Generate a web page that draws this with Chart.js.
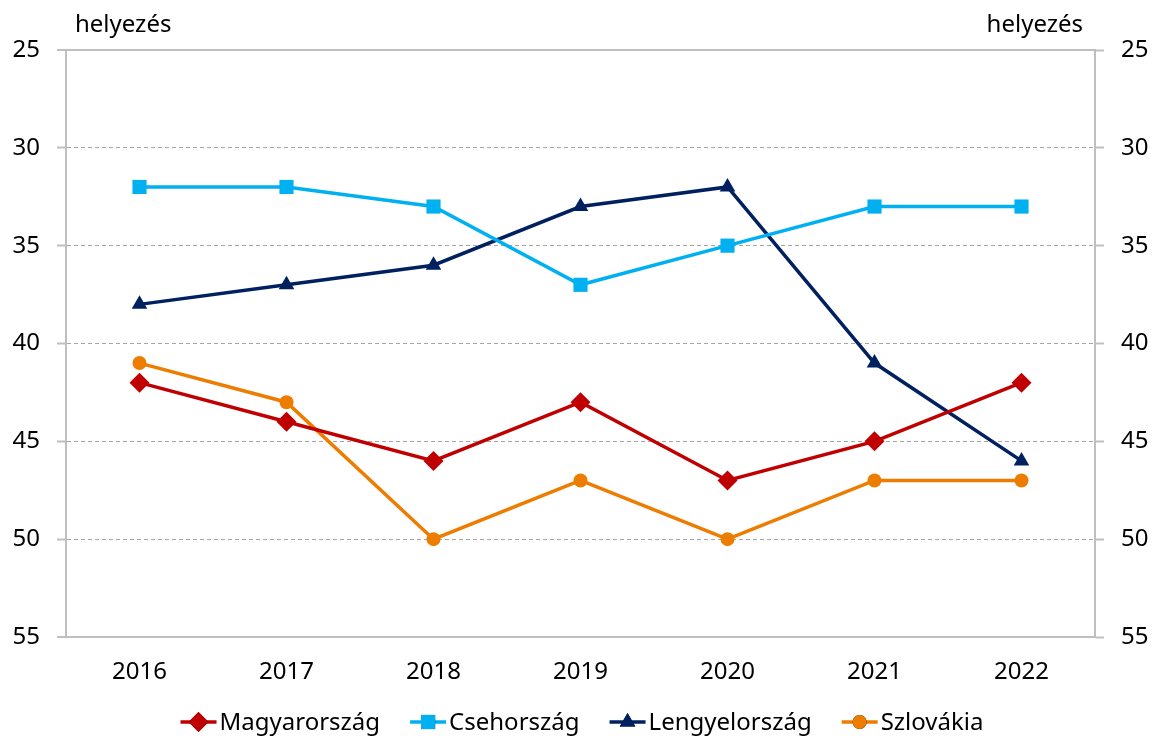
<!DOCTYPE html>
<html lang="hu">
<head>
    <meta charset="UTF-8">
    <title>Helyezés</title>
    <script src="https://cdn.jsdelivr.net/npm/chart.js"></script>
    <style>
        body { margin: 0; background: #fff; }
        #wrap { width: 1156px; height: 736px; }
    </style>
</head>
<body>
    <div id="wrap"><canvas id="rankChart"></canvas></div>
    <script>
        // data
        const years = ['2016', '2017', '2018', '2019', '2020', '2021', '2022'];
        const magyarorszag = [42, 44, 46, 43, 47, 45, 42];
        const csehorszag = [32, 32, 33, 37, 35, 33, 33];
        const lengyelorszag = [38, 37, 36, 33, 32, 41, 46];
        const szlovakia = [41, 43, 50, 47, 50, 47, 47];
        const yTicks = [25, 30, 35, 40, 45, 50, 55];
        const axisTitle = 'helyezés';

        const FONT = "'Noto Sans', 'Open Sans', sans-serif";
        const AXIS_GREY = '#BFBFBF';

        function series(label, data, color, style, radius) {
            return {
                label: label,
                data: data,
                borderColor: color,
                backgroundColor: color,
                borderWidth: 3.5,
                pointStyle: style,
                pointRadius: radius,
                pointHoverRadius: radius,
                pointBorderWidth: 0,
                tension: 0,
                yAxisID: 'y'
            };
        }

        // axis titles on top of both y axes + a legend row of line-with-marker swatches
        const extras = {
            id: 'extras',
            afterDraw(chart) {
                const ctx = chart.ctx;
                const a = chart.chartArea;
                ctx.save();
                ctx.font = '24px ' + FONT;
                ctx.fillStyle = '#000';
                ctx.textBaseline = 'alphabetic';
                ctx.textAlign = 'left';
                ctx.fillText(axisTitle, a.left + 9, 32);
                ctx.textAlign = 'right';
                ctx.fillText(axisTitle, a.right - 12, 32);

                // legend
                const sw = 36, gapText = 3, gapItem = 30, y = 722;
                const items = chart.data.datasets.map(d => ({
                    d: d, w: sw + gapText + ctx.measureText(d.label).width
                }));
                const total = items.reduce((s, it) => s + it.w, 0) + gapItem * (items.length - 1);
                let x = (chart.width - total) / 2 + 4;
                ctx.textAlign = 'left';
                ctx.textBaseline = 'middle';
                items.forEach(it => {
                    ctx.strokeStyle = it.d.borderColor;
                    ctx.lineWidth = 3.5;
                    ctx.beginPath();
                    ctx.moveTo(x, y); ctx.lineTo(x + sw, y);
                    ctx.stroke();
                    Chart.helpers.drawPoint(ctx, {
                        pointStyle: it.d.pointStyle,
                        radius: it.d.pointRadius,
                        borderWidth: 0,
                        rotation: 0
                    }, x + sw / 2, y);
                    ctx.fillStyle = it.d.borderColor;
                    ctx.fill();
                    ctx.fillStyle = '#000';
                    ctx.fillText(it.d.label, x + sw + gapText, y + 1);
                    x += it.w + gapItem;
                });
                ctx.restore();
            }
        };

        const isEdge = ctx => ctx.tick && (ctx.tick.value === 25 || ctx.tick.value === 55);

        const tickOpts = {
            font: { family: FONT, size: 24 },
            color: '#000',
            autoSkip: false,
            maxRotation: 0,
            padding: 17
        };

        new Chart(document.getElementById('rankChart'), {
            type: 'line',
            data: {
                labels: years,
                datasets: [
                    series('Magyarország', magyarorszag, '#C00000', 'rectRot', 10),
                    series('Csehország', csehorszag, '#00B0F0', 'rect', 10),
                    series('Lengyelország', lengyelorszag, '#002060', 'triangle', 9),
                    series('Szlovákia', szlovakia, '#ED7D00', 'circle', 7)
                ]
            },
            options: {
                responsive: true,
                maintainAspectRatio: false,
                animation: false,
                layout: { padding: { top: 50, left: 0, right: 0, bottom: 39 } },
                plugins: {
                    legend: { display: false },
                    tooltip: { enabled: false }
                },
                scales: {
                    x: {
                        offset: true,
                        grid: { display: false, drawTicks: false },
                        border: { color: AXIS_GREY, width: 2 },
                        ticks: Object.assign({}, tickOpts, { padding: 21 }),
                        afterFit(scale) { scale.height = 60; }
                    },
                    y: {
                        position: 'left',
                        reverse: true,
                        min: 25,
                        max: 55,
                        afterBuildTicks(scale) { scale.ticks = yTicks.map(v => ({ value: v })); },
                        afterFit(scale) { scale.width = 66; },
                        grid: {
                            color: ctx => isEdge(ctx) ? AXIS_GREY : '#A6A6A6',
                            lineWidth: ctx => isEdge(ctx) ? 2 : 1,
                            tickColor: AXIS_GREY,
                            tickLength: 9,
                            tickWidth: 2
                        },
                        border: { color: AXIS_GREY, width: 2, dash: ctx => isEdge(ctx) || !ctx.tick ? [] : [4, 3] },
                        ticks: tickOpts
                    },
                    y2: {
                        position: 'right',
                        reverse: true,
                        min: 25,
                        max: 55,
                        afterBuildTicks(scale) { scale.ticks = yTicks.map(v => ({ value: v })); },
                        afterFit(scale) { scale.width = 61; },
                        grid: { drawOnChartArea: false, tickColor: AXIS_GREY, tickLength: 9, tickWidth: 2 },
                        border: { color: AXIS_GREY, width: 2 },
                        ticks: tickOpts
                    }
                }
            },
            plugins: [extras]
        });
    </script>
</body>
</html>
